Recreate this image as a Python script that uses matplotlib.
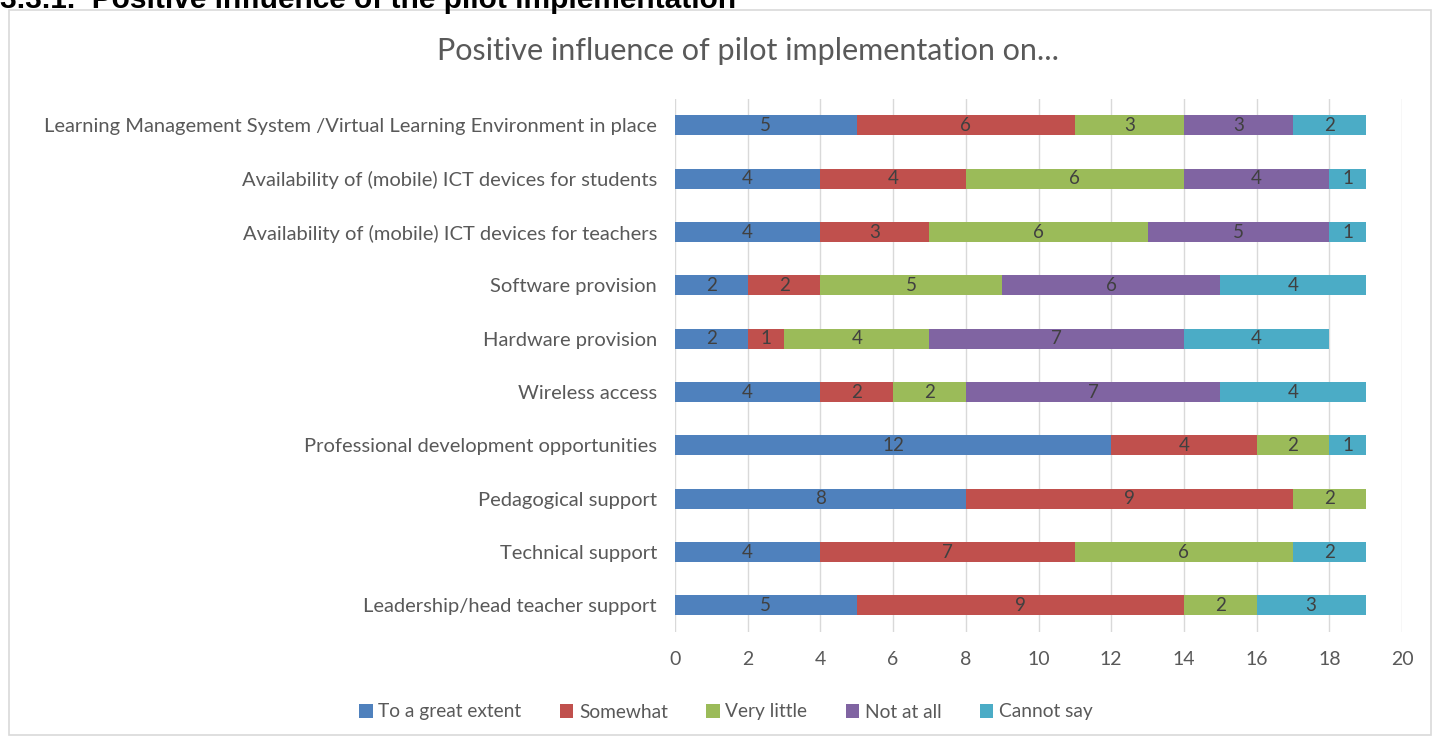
import numpy as np
import matplotlib
matplotlib.use("Agg")
import matplotlib.pyplot as plt
from matplotlib.patches import Rectangle

# Categorias (de baixo para cima, como no gráfico)
categorias = [
    "Leadership/head teacher support",
    "Technical support",
    "Pedagogical support",
    "Professional development opportunities",
    "Wireless access",
    "Hardware provision",
    "Software provision",
    "Availability of (mobile) ICT devices for teachers",
    "Availability of (mobile) ICT devices for students",
    "Learning Management System /Virtual Learning Environment in place",
]

series_nomes = ["To a great extent", "Somewhat", "Very little", "Not at all", "Cannot say"]
cores = ["#4F81BD", "#C0504D", "#9BBB59", "#8064A2", "#4BACC6"]

great_extent = [5, 4, 8, 12, 4, 2, 2, 4, 4, 5]
somewhat = [9, 7, 9, 4, 2, 1, 2, 3, 4, 6]
very_little = [2, 6, 2, 2, 2, 4, 5, 6, 6, 3]
not_at_all = [0, 0, 0, 0, 7, 7, 6, 5, 4, 3]
cannot_say = [3, 2, 0, 1, 4, 4, 4, 1, 1, 2]

x_ticks = list(range(0, 21, 2))

W, H = 1433, 736
fig = plt.figure(figsize=(W / 100, H / 100), dpi=100)
fig.patch.set_facecolor("white")

# moldura do gráfico
fig.patches.append(Rectangle((9 / W, 1 / H), (W - 11) / W, (H - 11) / H,
                             transform=fig.transFigure, fill=False,
                             edgecolor="#D9D9D9", linewidth=1.2))

# cabeçalho cortado no topo
fig.text(0.0, 1 - 8 / H, "3.3.1.  Positive influence of the pilot implementation",
         fontsize=21.5, fontweight="bold", family="Liberation Sans",
         color="black", va="baseline", ha="left")

ax_left, ax_right = 675 / W, 1402 / W
ax_top, ax_bot = 1 - 98.7 / H, 1 - 632 / H
ax = fig.add_axes([ax_left, ax_bot, ax_right - ax_left, ax_top - ax_bot])

y = np.arange(len(categorias))
dados = [great_extent, somewhat, very_little, not_at_all, cannot_say]
esquerda = np.zeros(len(categorias))
for nome, cor, valores in zip(series_nomes, cores, dados):
    valores = np.array(valores)
    ax.barh(y, valores, left=esquerda, height=0.37, color=cor, label=nome, zorder=3)
    for yi, l, v in zip(y, esquerda, valores):
        if v > 0:
            ax.text(l + v / 2, yi, str(v), ha="center", va="center",
                    fontsize=13.5, color="#404040", family="Lato", zorder=4)
    esquerda += valores

ax.set_xlim(0, 20)
ax.set_ylim(-0.5, len(categorias) - 0.5)
ax.set_xticks(x_ticks)
ax.set_xticklabels([str(t) for t in x_ticks], fontsize=14, color="#595959", family="Lato")
ax.set_yticks(y)
ax.set_yticklabels(categorias, fontsize=14.5, color="#595959", family="Lato")
ax.tick_params(axis="both", length=0)
ax.tick_params(axis="x", pad=14)
ax.tick_params(axis="y", pad=13)
ax.grid(axis="x", color="#D9D9D9", linewidth=1, zorder=0)
for s in ax.spines.values():
    s.set_visible(False)

fig.text(748 / W, 1 - 60 / H, "Positive influence of pilot implementation on...",
         fontsize=22, color="#595959", family="Lato", ha="center", va="baseline")

leg = fig.legend(loc="center", bbox_to_anchor=(726 / W, 1 - 712 / H), ncol=5,
                 frameon=False, handlelength=0.7, handleheight=0.7,
                 handletextpad=0.3, columnspacing=2.0,
                 prop={"family": "Lato", "size": 13.8})
for t in leg.get_texts():
    t.set_color("#595959")

fig.savefig("out.png", dpi=100)
